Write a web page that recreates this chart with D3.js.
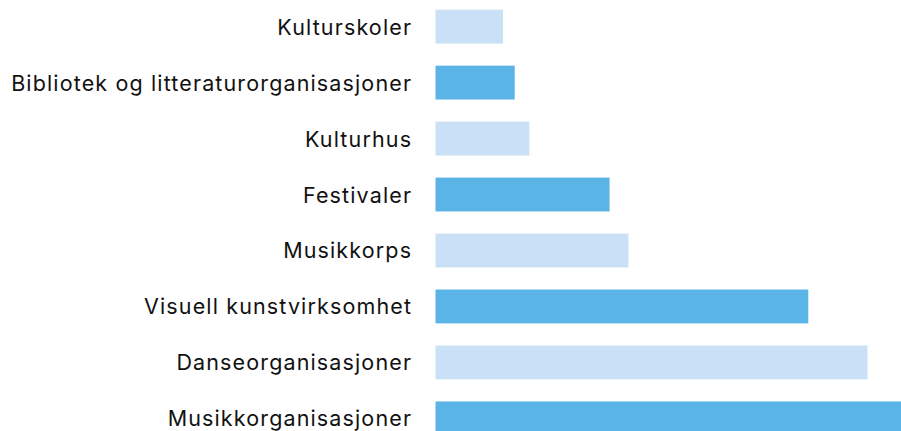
<!DOCTYPE html>
<html><head><meta charset="utf-8">
<script src="https://cdn.jsdelivr.net/npm/d3@7"></script>
<style>body{margin:0;background:#fff}svg{display:block}</style>
</head><body>
<script>
const categories = ["Kulturskoler","Bibliotek og litteraturorganisasjoner","Kulturhus","Festivaler","Musikkorps","Visuell kunstvirksomhet","Danseorganisasjoner","Musikkorganisasjoner"];
const values = [29, 34, 40.3, 74.7, 82.8, 160, 185.4, 200];
const colors = ["#c9e0f6","#5ab4e6"];

const W = 901, H = 431;
const svg = d3.select("body").append("svg").attr("width", W).attr("height", H);
const x = d3.scaleLinear().domain([0, 200]).range([435.5, 901.5]);
const y = d3.scaleBand().domain(categories).range([-1.5, 446.5]).paddingInner(0.395).paddingOuter(0.2);

svg.selectAll("rect").data(categories).join("rect")
  .attr("x", x(0)).attr("y", d => y(d))
  .attr("width", (d,i) => x(values[i]) - x(0))
  .attr("height", y.bandwidth())
  .attr("fill", (d,i) => colors[i % 2]);

const labels = svg.selectAll("text").data(categories).join("text")
  .attr("x", 411).attr("y", d => y(d) + y.bandwidth()/2 + 8)
  .attr("text-anchor", "end")
  .attr("font-family", "Inter, sans-serif").attr("font-size", 21.5)
  .attr("fill", "#111")
  .text(d => d);

// widen letter spacing so the longest label spans like the reference
let maxLen = 0, maxChars = 1;
labels.each(function(d){ const l = this.getComputedTextLength(); if (l > maxLen){maxLen = l; maxChars = d.length;} });
const ls = Math.max(0, (401 - maxLen) / maxChars);
labels.attr("letter-spacing", ls).attr("x", 411 + ls);
</script>
</body></html>
